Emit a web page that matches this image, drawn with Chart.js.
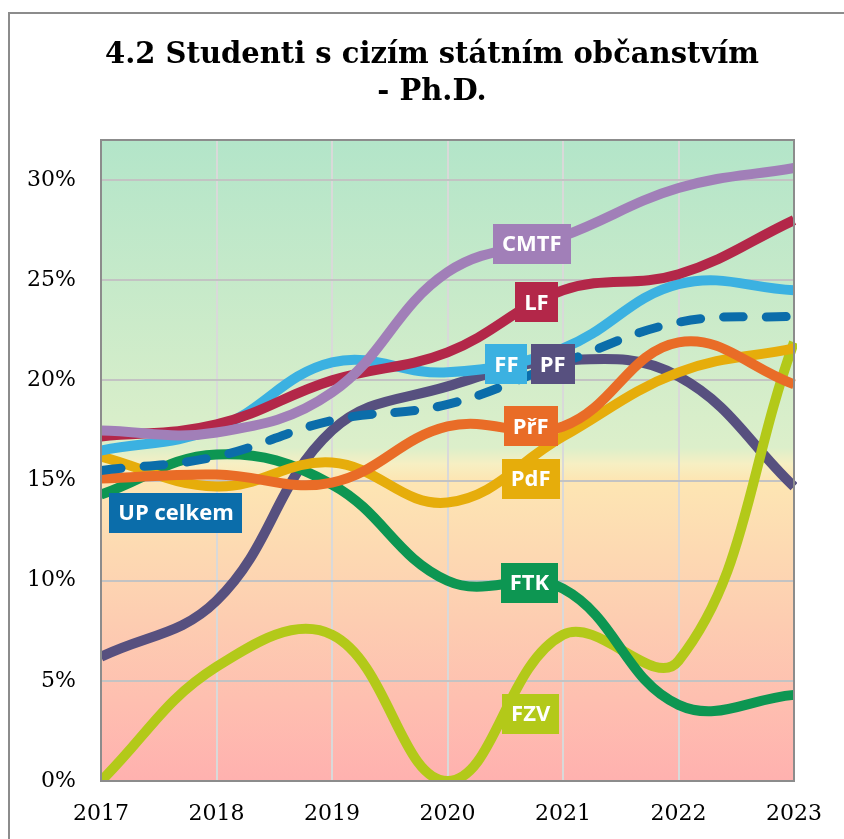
<!DOCTYPE html>
<html>
<head>
<meta charset="utf-8">
<script src="https://cdn.jsdelivr.net/npm/chart.js@4/dist/chart.umd.min.js"></script>
<style>
  html, body { margin: 0; padding: 0; background: #fff; }
  #wrap { position: relative; width: 844px; height: 839px; overflow: hidden; }
  canvas { position: absolute; left: 0; top: 0; }
</style>
</head>
<body>
<div id="wrap"><canvas id="c" width="844" height="839"></canvas></div>
<script>
// ---- data ----
const years = ['2017', '2018', '2019', '2020', '2021', '2022', '2023'];
const yTicks = [0, 5, 10, 15, 20, 25, 30];
const titleLines = ['4.2 Studenti s cizím státním občanstvím', '- Ph.D.'];

const cmtf = [17.5, 17.4, 19.4, 25.4, 27.2, 29.6, 30.6];
const lf   = [17.2, 17.8, 20.0, 21.4, 24.5, 25.3, 28.0];
const ff   = [16.5, 17.6, 20.9, 20.4, 21.6, 24.8, 24.5];
const up   = [15.5, 16.2, 18.0, 18.8, 20.9, 22.9, 23.2];
const pf   = [6.2, 9.0, 17.5, 19.7, 21.0, 20.2, 14.7];
const prf  = [15.1, 15.3, 14.9, 17.7, 17.7, 21.9, 19.8];
const pdf  = [16.2, 14.7, 15.9, 13.9, 17.2, 20.4, 21.6];
const ftk  = [14.3, 16.3, 14.8, 10.0, 9.6, 3.8, 4.3];
const fzv  = [0.0, 5.7, 7.3, 0.0, 7.3, 6.0, 21.9];

// in-chart name tags: name, year position, value position
const tagNames  = ['CMTF', 'LF', 'FF', 'PF', 'PřF', 'PdF', 'FTK', 'FZV', 'UP celkem'];
const tagYears  = [2020.73, 2020.77, 2020.51, 2020.91, 2020.72, 2020.72, 2020.71, 2020.72, 2017.65];
const tagValues = [26.8, 23.9, 20.8, 20.8, 17.7, 15.1, 9.9, 3.35, 13.4];

const colors = {
  'CMTF': '#a17fb8', 'LF': '#b32749', 'FF': '#3bb1e1', 'PF': '#57507f',
  'PřF': '#e96c27', 'PdF': '#e6ad0b', 'FTK': '#0d9652', 'FZV': '#b3c919',
  'UP celkem': '#0b6daa'
};

function ds(label, data, order, extra) {
  return Object.assign({
    label, data, order,
    borderColor: colors[label], backgroundColor: colors[label],
    borderWidth: 10, pointRadius: 0, tension: 0.4, fill: false,
    borderCapStyle: 'butt',
    clip: { left: 0, top: 0, right: 3, bottom: 0 }
  }, extra || {});
}

const datasets = [
  ds('CMTF', cmtf, 1),
  ds('LF', lf, 2),
  ds('FF', ff, 3),
  ds('UP celkem', up, 4, { borderDash: [20, 23], borderCapStyle: 'round', borderWidth: 9 }),
  ds('PřF', prf, 5),
  ds('PdF', pdf, 6),
  ds('FTK', ftk, 7),
  ds('FZV', fzv, 8),
  ds('PF', pf, 9)
];

const framePlugin = {
  id: 'frame',
  beforeDraw(chart) {
    const ctx = chart.ctx, a = chart.chartArea;
    ctx.save();
    ctx.fillStyle = '#fff';
    ctx.fillRect(0, 0, chart.width, chart.height);
    // outer frame (only top & left visible)
    ctx.strokeStyle = '#8c8c8c';
    ctx.lineWidth = 2;
    ctx.strokeRect(9, 13, 900, 900);
    // background gradient
    const g = ctx.createLinearGradient(0, a.top, 0, a.bottom);
    g.addColorStop(0, '#b3e5c9');
    g.addColorStop(0.48, '#dcefca');
    g.addColorStop(0.505, '#f6efc3');
    g.addColorStop(0.53, '#fde6b3');
    g.addColorStop(0.75, '#fdcdb1');
    g.addColorStop(1, '#ffb1af');
    ctx.fillStyle = g;
    ctx.fillRect(a.left, a.top, a.right - a.left, a.bottom - a.top);
    // title
    ctx.fillStyle = '#000';
    ctx.font = 'bold 29px "DejaVu Serif", serif';
    ctx.textAlign = 'center';
    ctx.textBaseline = 'alphabetic';
    ctx.fillText(titleLines[0], 432, 63);
    ctx.fillText(titleLines[1], 432, 100);
    ctx.restore();
  },
  afterDatasetsDraw(chart) {
    const ctx = chart.ctx, a = chart.chartArea;
    const xs = chart.scales.x, ys = chart.scales.y;
    ctx.save();
    // plot border
    ctx.strokeStyle = '#8c8c8c';
    ctx.lineWidth = 2;
    ctx.strokeRect(a.left, a.top, a.right - a.left, a.bottom - a.top);
    // tags
    ctx.font = 'bold 22px "Open Sans", sans-serif';
    ctx.textAlign = 'center';
    ctx.textBaseline = 'middle';
    tagNames.forEach((name, i) => {
      const cx = xs.getPixelForValue(tagYears[i] - Number(years[0]));
      const cy = ys.getPixelForValue(tagValues[i]);
      const w = ctx.measureText(name).width + 18;
      const h = 40;
      ctx.fillStyle = colors[name];
      ctx.fillRect(Math.round(cx - w / 2), Math.round(cy - h / 2), Math.round(w), h);
      ctx.fillStyle = '#fff';
      ctx.fillText(name, cx, cy + 1);
    });
    ctx.restore();
  }
};

new Chart(document.getElementById('c'), {
  type: 'line',
  data: { labels: years, datasets },
  options: {
    responsive: false,
    animation: false,
    layout: { padding: { left: 0, right: 50, top: 140, bottom: 0 } },
    plugins: { legend: { display: false }, title: { display: false }, tooltip: { enabled: false } },
    scales: {
      x: {
        type: 'category',
        offset: false,
        grid: { color: '#d9d9d9', lineWidth: 2, drawTicks: false },
        border: { display: false },
        ticks: { color: '#000', font: { family: '"DejaVu Serif", serif', size: 22 }, padding: 20, maxRotation: 0, autoSkip: false },
        afterFit(s) { s.height = 58; }
      },
      y: {
        min: 0, max: 32,
        grid: { color: '#c3c3c3', lineWidth: 2, drawTicks: false },
        border: { display: false },
        afterBuildTicks(s) { s.ticks = yTicks.map(v => ({ value: v })); },
        ticks: {
          color: '#000', font: { family: '"DejaVu Serif", serif', size: 22 }, padding: 25,
          callback: v => v + '%'
        },
        afterFit(s) { s.width = 101; }
      }
    }
  },
  plugins: [framePlugin]
});
</script>
</body>
</html>
